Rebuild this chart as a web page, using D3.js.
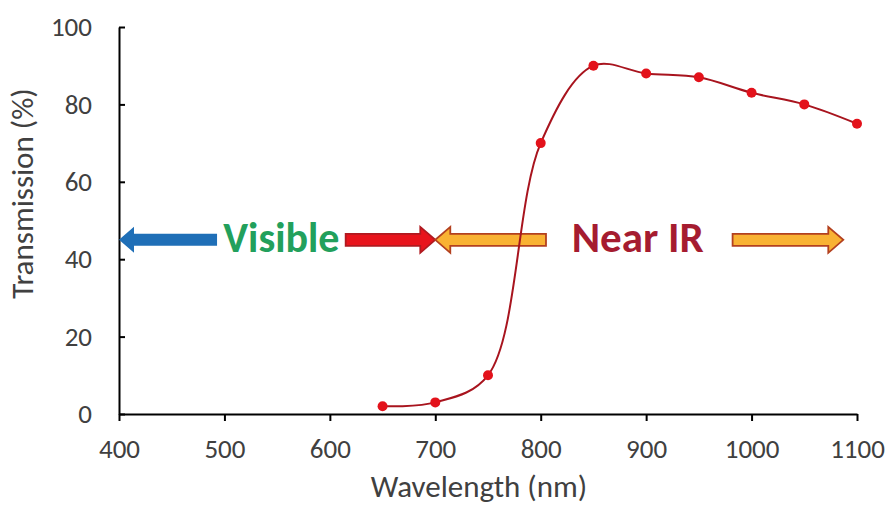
<!DOCTYPE html>
<html>
<head>
<meta charset="utf-8">
<script src="https://cdn.jsdelivr.net/npm/d3@7"></script>
<style>
  body { margin: 0; background: #fff; }
  .chart text { font-family: Carlito, Lato, "Open Sans", sans-serif; fill: #404040; }
</style>
</head>
<body>
<div class="chart"></div>
<script>
let wavelengths = [650, 700, 750, 800, 850, 900, 950, 1000, 1050, 1100];
let transmission = [2, 3, 10, 70, 90, 88, 87, 83, 80, 75];
let xTicks = [400, 500, 600, 700, 800, 900, 1000, 1100];
let yTicks = [0, 20, 40, 60, 80, 100];

let margin = {top: 27, right: 34, bottom: 92, left: 119};
let width = 891 - margin.left - margin.right;
let height = 506 - margin.top - margin.bottom;

let svg = d3.select('.chart')
  .append('svg')
    .attr('width', 891)
    .attr('height', 506)
  .append('g')
    .attr('transform', `translate(${margin.left}, ${margin.top})`);

let xScale = d3.scaleLinear()
  .domain([400, 1100])
  .range([0, width]);

let yScale = d3.scaleLinear()
  .domain([0, 100])
  .range([height, 0]);

// y axis, ticks point into the plot
let yAxis = d3.axisLeft(yScale)
  .tickValues(yTicks)
  .tickSizeInner(-6)
  .tickSizeOuter(0)
  .tickPadding(27);
let gy = svg.append('g').call(yAxis);

let xAxis = d3.axisBottom(xScale)
  .tickValues(xTicks)
  .tickFormat(d3.format('d'))
  .tickSizeInner(7)
  .tickSizeOuter(0)
  .tickPadding(18);
let gx = svg.append('g')
  .attr('transform', `translate(0, ${height})`)
  .call(xAxis);

[gx, gy].forEach(g => {
  g.select('.domain').attr('stroke', '#000').attr('stroke-width', 2);
  g.selectAll('.tick line').attr('stroke', '#000').attr('stroke-width', 2);
  g.selectAll('.tick text').style('font-size', '27px').attr('fill', '#404040');
});

svg.append('text')
  .attr('x', width / 2 - 9)
  .attr('y', height + 83)
  .attr('text-anchor', 'middle')
  .style('font-size', '31px')
  .text('Wavelength (nm)');

svg.append('text')
  .attr('transform', `translate(-86, ${height / 2 - 27}) rotate(-90)`)
  .attr('text-anchor', 'middle')
  .style('font-size', '31px')
  .text('Transmission (%)');

// region arrows, spans given in wavelength units
function arrow(x0, x1, dir, fill, stroke) {
  let y = yScale(45), s = 6, h = 13, hl = 15;
  let a = xScale(x0), b = xScale(x1);
  let pts;
  if (dir > 0) {
    pts = [[a, y - s], [b - hl, y - s], [b - hl, y - h], [b, y], [b - hl, y + h], [b - hl, y + s], [a, y + s]];
  } else {
    pts = [[b, y - s], [a + hl, y - s], [a + hl, y - h], [a, y], [a + hl, y + h], [a + hl, y + s], [b, y + s]];
  }
  svg.append('polygon')
    .attr('points', pts.map(p => p.join(',')).join(' '))
    .attr('fill', fill)
    .attr('stroke', stroke)
    .attr('stroke-width', stroke === 'none' ? 0 : 1.8)
    .attr('stroke-linejoin', 'miter');
}

arrow(400, 493, -1, '#1f6fb7', 'none');
arrow(615, 700, 1, '#e8141c', '#b01a20');
arrow(700, 805, -1, '#f9b233', '#b3401f');
arrow(982, 1087, 1, '#f9b233', '#b3401f');

svg.append('text')
  .attr('x', xScale(554))
  .attr('y', yScale(45) + 12)
  .attr('text-anchor', 'middle')
  .style('font-size', '42px')
  .style('font-weight', 'bold')
  .style('fill', '#22a05c')
  .text('Visible');

svg.append('text')
  .attr('x', xScale(892))
  .attr('y', yScale(45) + 12)
  .attr('text-anchor', 'middle')
  .style('font-size', '43px')
  .style('font-weight', 'bold')
  .style('fill', '#a51c30')
  .text('Near IR');

// smoothed transmission curve
let points = wavelengths.map((w, i) => [w, transmission[i]]);

let line = d3.line()
  .x(d => xScale(d[0]))
  .y(d => yScale(d[1]))
  .curve(d3.curveCatmullRom.alpha(0.5));

svg.append('path')
  .datum(points)
  .attr('d', line)
  .attr('fill', 'none')
  .attr('stroke', '#a8141e')
  .attr('stroke-width', 2);

svg.selectAll('.dot')
  .data(points)
  .enter()
  .append('circle')
    .attr('class', 'dot')
    .attr('cx', d => xScale(d[0]))
    .attr('cy', d => yScale(d[1]))
    .attr('r', 5)
    .attr('fill', '#e3121b');
</script>
</body>
</html>
